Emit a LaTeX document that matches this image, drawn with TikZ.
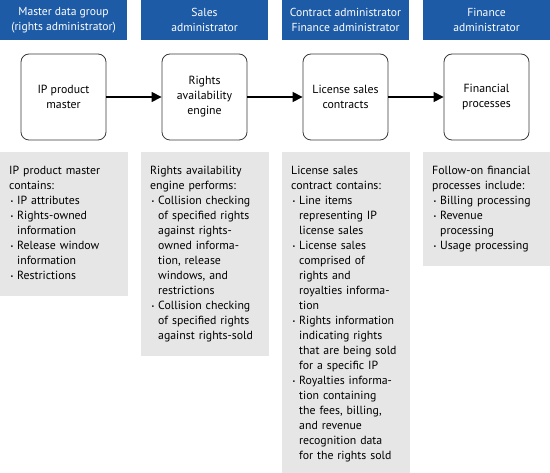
\documentclass[tikz,border=0pt]{standalone}
\usepackage{fontspec}
\setmainfont{PT Sans}
\usetikzlibrary{arrows.meta}
\definecolor{roleblue}{HTML}{1D5BA6}
\definecolor{notegray}{HTML}{E6E6E6}
\definecolor{boxline}{HTML}{3A3A3A}
\newcommand{\bulitem}{\makebox[8pt][l]{\hspace{1.5pt}\raisebox{1.4pt}{\fontsize{6}{6}\selectfont\textbullet}}}
\newcommand{\bulcont}{\hspace*{8pt}}
\tikzset{
  role/.style={fill=roleblue,text=white,minimum width=127pt,minimum height=40pt,align=center,inner sep=0pt,
    font=\fontsize{11.6}{14.5}\selectfont},
  procbox/.style={draw=boxline,line width=0.8pt,rounded corners=8pt,fill=white,minimum width=85pt,minimum height=86pt,
    align=center,inner sep=0pt,font=\fontsize{11.8}{15}\selectfont},
  note/.style={fill=notegray,anchor=north west,text width=110pt,align=left,inner xsep=9pt,inner ysep=12pt,
    font=\fontsize{11.8}{15}\selectfont}
}
\begin{document}
\begin{tikzpicture}[x=1pt,y=-1pt,>={Triangle[length=10pt,width=10pt]}]
  \useasboundingbox (0,0) rectangle (550,473);
  \node[role] (h1) at (63.5,20) {Master data group\\(rights administrator)};
  \node[role] (h2) at (204.5,20) {Sales\\administrator};
  \node[role] (h3) at (345.5,20) {Contract administrator\\Finance administrator};
  \node[role] (h4) at (486.5,20) {Finance\\administrator};
  \node[procbox] (p1) at (63.5,97) {IP product\\master};
  \node[procbox] (p2) at (204.5,97) {Rights\\availability\\engine};
  \node[procbox] (p3) at (345.5,97) {License sales\\contracts};
  \node[procbox] (p4) at (486.5,97) {Financial\\processes};
  \draw[->,line width=1.2pt] (p1) -- (p2);
  \draw[->,line width=1.2pt] (p2) -- (p3);
  \draw[->,line width=1.2pt] (p3) -- (p4);
  \node[note] (n1) at (0,152) {\strut IP product master\\contains:\\
    \bulitem IP attributes\\
    \bulitem Rights-owned\\\bulcont information\\
    \bulitem Release window\\\bulcont information\\
    \bulitem Restrictions\strut};
  \node[note] (n2) at (141,152) {\strut Rights availability\\engine performs:\\
    \bulitem Collision checking\\\bulcont of specified rights\\\bulcont against rights-\\\bulcont owned informa-\\\bulcont tion, release\\\bulcont windows, and\\\bulcont restrictions\\
    \bulitem Collision checking\\\bulcont of specified rights\\\bulcont against rights-sold\strut};
  \node[note] (n3) at (282,152) {\strut License sales\\contract contains:\\
    \bulitem Line items\\\bulcont representing IP\\\bulcont license sales\\
    \bulitem License sales\\\bulcont comprised of\\\bulcont rights and\\\bulcont royalties informa-\\\bulcont tion\\
    \bulitem Rights information\\\bulcont indicating rights\\\bulcont that are being sold\\\bulcont for a specific IP\\
    \bulitem Royalties informa-\\\bulcont tion containing\\\bulcont the fees, billing,\\\bulcont and revenue\\\bulcont recognition data\\\bulcont for the rights sold\strut};
  \node[note] (n4) at (423,152) {\strut Follow-on financial\\processes include:\\
    \bulitem Billing processing\\
    \bulitem Revenue\\\bulcont processing\\
    \bulitem Usage processing\strut};
\end{tikzpicture}
\end{document}
